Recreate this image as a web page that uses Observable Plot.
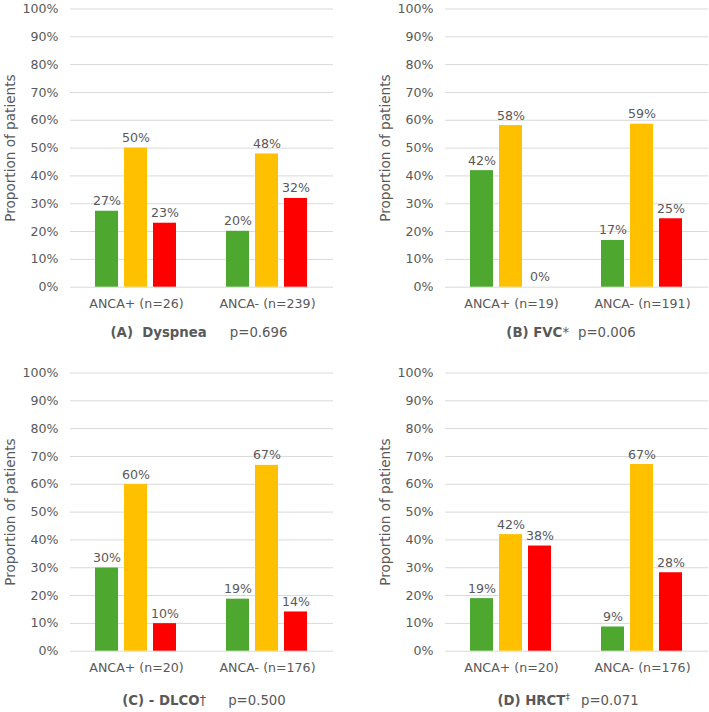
<!DOCTYPE html>
<html>
<head>
<meta charset="utf-8">
<script src="https://cdn.jsdelivr.net/npm/d3@7"></script>
<script src="https://cdn.jsdelivr.net/npm/@observablehq/plot@0.6"></script>
<style>
  html, body { margin: 0; padding: 0; background: #ffffff; overflow: hidden; }
  #root { position: relative; width: 709px; height: 712px; font-family: "DejaVu Sans", sans-serif; color: #595959; }
  .panel { position: absolute; width: 334px; height: 318px; }
  .panel svg { position: absolute; left: 0; top: 0; }
  .title { position: absolute; width: 300px; text-align: center; font-size: 13.3px; line-height: 16px; white-space: pre; color: #595959; }
  .title b { font-weight: bold; }
  .title sup { font-size: 9px; vertical-align: 5px; line-height: 0; }
</style>
</head>
<body>
<div id="root"></div>
<script>
// Three response series per group (unlabeled in the figure; shown as green, yellow, red)
const seriesKeys = ["series 1", "series 2", "series 3"];
const seriesColors = ["#4ea72e", "#ffc000", "#ff0000"];

// Y axis ticks (percent)
const yTicks = [0, 10, 20, 30, 40, 50, 60, 70, 80, 90, 100];
const yLabel = "Proportion of patients";

// (A) Dyspnea
const groupsA = ["ANCA+ (n=26)", "ANCA- (n=239)"];
const dyspneaPos = [27.3, 50.0, 23.0];
const dyspneaNeg = [20.1, 47.9, 31.9];

// (B) FVC*
const groupsB = ["ANCA+ (n=19)", "ANCA- (n=191)"];
const fvcPos = [41.9, 58.1, 0];
const fvcNeg = [16.8, 58.6, 24.6];

// (C) DLCO†
const groupsC = ["ANCA+ (n=20)", "ANCA- (n=176)"];
const dlcoPos = [29.9, 59.9, 9.9];
const dlcoNeg = [18.7, 66.8, 14.1];

// (D) HRCT‡
const groupsD = ["ANCA+ (n=20)", "ANCA- (n=176)"];
const hrctPos = [18.9, 41.9, 37.8];
const hrctNeg = [8.7, 67.1, 28.2];

const frame = {width: 334, height: 318, marginLeft: 70, marginRight: 1, marginTop: 8.5, marginBottom: 31.3};
const style = {fontFamily: "DejaVu Sans", fontSize: "12.6px", color: "#595959", background: "transparent"};

function makeRows(groups, pos, neg) {
  const rows = [];
  [pos, neg].forEach((vals, i) => {
    vals.forEach((v, j) => rows.push({group: groups[i], series: seriesKeys[j], value: v}));
  });
  return rows;
}

// background: gridlines, y axis and y label across the whole frame
function makeBackground() {
  return Plot.plot({
    ...frame,
    style,
    y: {domain: [0, 100]},
    marks: [
      Plot.ruleY(yTicks, {stroke: "#d9d9d9", strokeWidth: 1}),
      Plot.axisY({ticks: yTicks, tickFormat: d => d + "%", tickSize: 0, tickPadding: 12, label: null}),
      Plot.text([yLabel], {text: d => d, frameAnchor: "left", textAnchor: "middle", rotate: -90, dx: -60, fontSize: 13.6, fill: "#595959"})
    ]
  });
}

// foreground: grouped bars with value labels and category axis
function makeBars(groups, pos, neg) {
  const rows = makeRows(groups, pos, neg);
  return Plot.plot({
    ...frame,
    style,
    fx: {domain: groups, paddingInner: 0.28, paddingOuter: 0.143, label: null, tickSize: 0, tickPadding: 12},
    x: {domain: seriesKeys, padding: 0.2, axis: null},
    y: {domain: [0, 100], axis: null},
    color: {type: "ordinal", domain: seriesKeys, range: seriesColors},
    marks: [
      Plot.barY(rows, {fx: "group", x: "series", y: "value", fill: "series"}),
      Plot.text(rows, {fx: "group", x: "series", y: "value", text: d => Math.round(d.value) + "%", lineAnchor: "bottom", dy: -6, fill: "#595959", fontSize: 12.6})
    ]
  });
}

const root = document.getElementById("root");
const panels = [
  {groups: groupsA, pos: dyspneaPos, neg: dyspneaNeg, left: 0, top: 0,
   title: '<b>(A)  Dyspnea</b><span style="margin-left:23px">p=0.696</span>', tcx: 199, ttop: 325},
  {groups: groupsB, pos: fvcPos, neg: fvcNeg, left: 375, top: 0,
   title: '<b>(B) FVC</b>*<span style="margin-left:9px">p=0.006</span>', tcx: 571, ttop: 325},
  {groups: groupsC, pos: dlcoPos, neg: dlcoNeg, left: 0, top: 363.8,
   title: '<b>(C) - DLCO</b>†<span style="margin-left:22px">p=0.500</span>', tcx: 204, ttop: 693},
  {groups: groupsD, pos: hrctPos, neg: hrctNeg, left: 375, top: 363.8,
   title: '<b>(D) HRCT</b><sup>‡</sup><span style="margin-left:11px">p=0.071</span>', tcx: 568, ttop: 693}
];

panels.forEach(p => {
  const div = document.createElement("div");
  div.className = "panel";
  div.style.left = p.left + "px";
  div.style.top = p.top + "px";
  div.appendChild(makeBackground());
  div.appendChild(makeBars(p.groups, p.pos, p.neg));
  root.appendChild(div);
  const t = document.createElement("div");
  t.className = "title";
  t.style.left = (p.tcx - 150) + "px";
  t.style.top = p.ttop + "px";
  t.innerHTML = p.title;
  root.appendChild(t);
});
</script>
</body>
</html>
